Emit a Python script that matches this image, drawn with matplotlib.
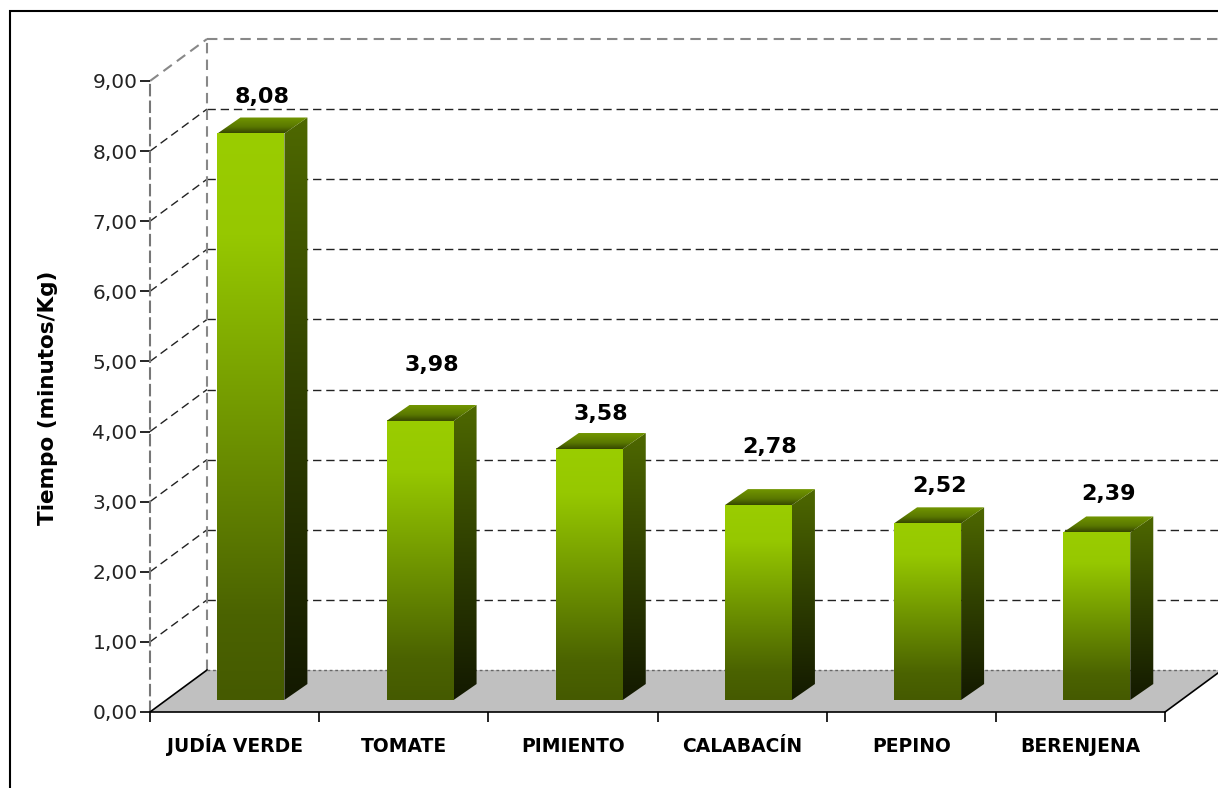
import numpy as np
import matplotlib
matplotlib.use("Agg")
import matplotlib.pyplot as plt
from matplotlib.colors import LinearSegmentedColormap
from matplotlib.patches import Polygon, Rectangle

# datos
categorias = ["JUDÍA VERDE", "TOMATE", "PIMIENTO", "CALABACÍN", "PEPINO", "BERENJENA"]
tiempos = [8.08, 3.98, 3.58, 2.78, 2.52, 2.39]
etiquetas = ["8,08", "3,98", "3,58", "2,78", "2,52", "2,39"]
marcas_y = [0, 1, 2, 3, 4, 5, 6, 7, 8, 9]
textos_y = ["0,00", "1,00", "2,00", "3,00", "4,00", "5,00", "6,00", "7,00", "8,00", "9,00"]
# separacion de las etiquetas (como las pone excel)
subida = [0.52, 0.80, 0.50, 0.83, 0.53, 0.55]

# profundidad de la caja 3d, en unidades de los ejes
WX, WY = 0.337, 0.599
# posicion y tamaño de las barras dentro de la caja
FX, FY = 0.0964, 0.171
ANCHO = 0.396
BX, BY = 0.136, 0.228

cm_frente = LinearSegmentedColormap.from_list(
    "frente", [(0, "#9ACD00"), (0.18, "#96C800"), (0.55, "#6C9000"), (0.85, "#4B6300"), (1, "#455A00")])
cm_lado = LinearSegmentedColormap.from_list(
    "lado", [(0, "#4E6800"), (0.5, "#2F3F00"), (1, "#131900")])
cm_tapa = LinearSegmentedColormap.from_list(
    "tapa", [(0, "#729600"), (0.6, "#5A7800"), (1, "#364700")])

fig = plt.figure(figsize=(12.18, 7.88), dpi=100)
ax = fig.add_axes([0, 0, 1, 1])
ax.patch.set_alpha(0)

grad = np.linspace(0, 1, 256).reshape(-1, 1)
n = len(categorias)
x0e, x1e = -0.5, n - 0.5

# pared del fondo: lineas de division
for v in marcas_y[1:-1]:
    ax.plot([x0e + WX, x1e + WX], [v + WY, v + WY], color="#222222", lw=1, ls=(0, (6, 3.5)), zorder=1)
    ax.plot([x0e, x0e + WX], [v, v + WY], color="#222222", lw=1, ls=(0, (6, 3.5)), zorder=1)
top = marcas_y[-1]
ax.plot([x0e + WX, x1e + WX], [top + WY, top + WY], color="#888888", lw=1.5, ls=(0, (5, 3)), zorder=1)
ax.plot([x0e, x0e + WX], [top, top + WY], color="#888888", lw=1.5, ls=(0, (5, 3)), zorder=1)
ax.plot([x0e + WX, x0e + WX], [WY, top + WY], color="#888888", lw=1.5, ls=(0, (5, 3)), zorder=1)

# suelo
suelo = Polygon([(x0e, 0), (x0e + WX, WY), (x1e + WX, WY), (x1e, 0)], closed=True,
                facecolor="#C0C0C0", edgecolor="none", zorder=2)
ax.add_patch(suelo)
ax.plot([x0e, x0e + WX], [0, WY], color="black", lw=1.2, zorder=3)
ax.plot([x1e, x1e + WX], [0, WY], color="black", lw=1.2, zorder=3)
ax.plot([x0e + WX, x1e + WX], [WY, WY], color="#666666", lw=1, ls=(0, (2, 2)), zorder=3)

# barras
for i, v in enumerate(tiempos):
    cx = i + FX
    xa, xb = cx - ANCHO / 2, cx + ANCHO / 2
    ya, yb = FY, v + FY
    # cara frontal
    ax.imshow(grad, cmap=cm_frente, extent=(xa, xb, ya, yb), origin="upper",
              aspect="auto", interpolation="bilinear", zorder=5)
    # cara lateral
    lado = Polygon([(xb, ya), (xb + BX, ya + BY), (xb + BX, yb + BY), (xb, yb)], closed=True,
                   facecolor="none", edgecolor="none")
    ax.add_patch(lado)
    im = ax.imshow(grad, cmap=cm_lado, extent=(xb, xb + BX, ya, yb + BY), origin="upper",
                   aspect="auto", interpolation="bilinear", zorder=5)
    im.set_clip_path(lado)
    # tapa
    tapa = Polygon([(xa, yb), (xa + BX, yb + BY), (xb + BX, yb + BY), (xb, yb)], closed=True,
                   facecolor="none", edgecolor="none")
    ax.add_patch(tapa)
    im = ax.imshow(grad, cmap=cm_tapa, extent=(xa, xb + BX, yb, yb + BY), origin="upper",
                   aspect="auto", interpolation="bilinear", zorder=5)
    im.set_clip_path(tapa)
    # etiqueta
    ax.text(cx + BX / 2, yb + subida[i], etiquetas[i], ha="center", va="center",
            fontsize=16, fontweight="bold", color="black", zorder=6)

# ejes
ax.set_xlim(-1.3867, 5.813)
ax.set_ylim(-1.084, 10.155)
for s in ["top", "right"]:
    ax.spines[s].set_visible(False)
ax.spines["left"].set_position(("data", x0e))
ax.spines["left"].set_bounds(0, top)
ax.spines["left"].set_color("#777777")
ax.spines["left"].set_linewidth(1.5)
ax.spines["left"].set_linestyle((0, (5, 3)))
ax.spines["bottom"].set_position(("data", 0))
ax.spines["bottom"].set_bounds(x0e, x1e)
ax.spines["bottom"].set_linewidth(1.2)
ax.spines["bottom"].set_zorder(4)

ax.set_yticks(marcas_y)
ax.set_yticklabels(textos_y)
ax.tick_params(axis="y", direction="out", length=7, width=1.2, pad=2,
               labelsize=14.5, labelcolor="#222222")
ax.set_xticks(np.arange(n + 1) - 0.5)
ax.set_xticklabels([])
ax.set_xticks(np.arange(n), minor=True)
ax.set_xticklabels(categorias, minor=True, fontsize=13.5, fontweight="bold")
for lbl in ax.get_xticklabels(minor=True):
    lbl.set_verticalalignment("baseline")
ax.tick_params(axis="x", which="major", direction="out", length=7.5, width=1.2)
ax.tick_params(axis="x", which="minor", length=0, pad=29)

ax.set_ylabel("Tiempo (minutos/Kg)", fontsize=15.5, fontweight="bold")
ax.yaxis.set_label_coords(58 / 1218, 1 - 398 / 788)

# borde del grafico
fig.patches.append(Rectangle((10 / 1218, -0.1), 1.2, 1.1 - 11 / 788, transform=fig.transFigure,
                             fill=False, edgecolor="black", lw=1.5))

fig.savefig("out.png", dpi=100)
